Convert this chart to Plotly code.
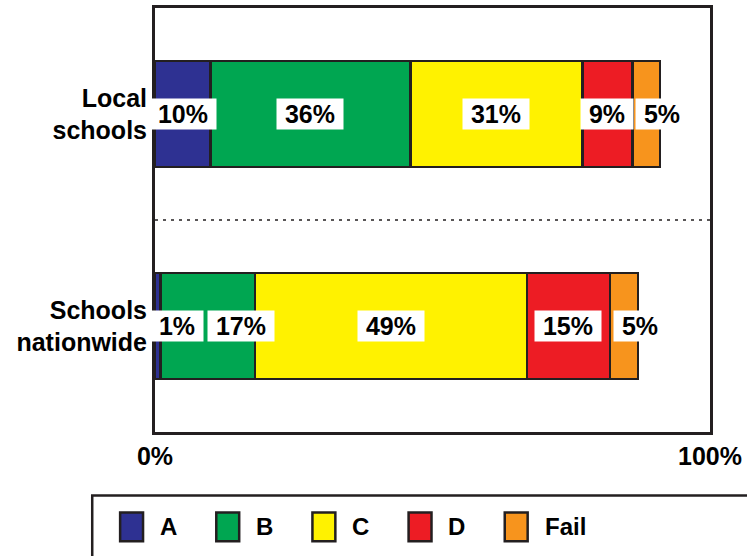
import plotly.graph_objects as go

# data
groups = ["Local schools", "Schools nationwide"]
group_ticktext = ["Local<br>schools", "Schools<br>nationwide"]
grades = ["A", "B", "C", "D", "Fail"]
local_pct = [10, 36, 31, 9, 5]
nationwide_pct = [1, 17, 49, 15, 5]
grade_colors = ["#2e3192", "#00a651", "#fff200", "#ed1c24", "#f7941d"]
x_tickvals = [0, 100]
x_ticktext = ["0%", "100%"]

# pixel nudges for labels on segments too thin to hold them
label_shift = {
    "Local schools": [0, 0, 0, 0, 16],
    "Schools nationwide": [19, 33, 0, 0, 16],
}

W, H = 747, 556
L, R, T, B = 155, 35, 5, 124
DARK = "#231f20"
FONT = "Liberation Sans, Arial, sans-serif"


def px_x(p):
    return (p - L) / (W - L - R)


def px_y(p):
    return (H - B - p) / (H - T - B)


series = {"Local schools": local_pct, "Schools nationwide": nationwide_pct}

fig = go.Figure()
for i, grade in enumerate(grades):
    fig.add_trace(go.Bar(
        y=groups,
        x=[series[g][i] for g in groups],
        name=grade,
        orientation="h",
        marker=dict(color=grade_colors[i], line=dict(color=DARK, width=2.5)),
        showlegend=False,
        hoverinfo="skip",
    ))

annotations = []
for g in groups:
    start = 0
    for i, v in enumerate(series[g]):
        annotations.append(dict(
            x=start + v / 2, y=g, xref="x", yref="y",
            text=f" {v}% ", showarrow=False,
            bgcolor="white", borderpad=1,
            xshift=label_shift[g][i],
            font=dict(family=FONT, size=25, color="black", weight="bold"),
        ))
        start += v

# legend drawn by hand so the swatches match the original size
shapes = [
    dict(type="line", xref="paper", yref="y", x0=0, x1=1, y0=0.5, y1=0.5,
         line=dict(color=DARK, width=1.5, dash="3px,5px")),
    dict(type="rect", xref="paper", yref="paper",
         x0=px_x(92), x1=px_x(770), y0=px_y(496), y1=px_y(580),
         line=dict(color=DARK, width=2.5), fillcolor="rgba(0,0,0,0)"),
]
for i, grade in enumerate(grades):
    x0 = 120 + i * 96.5
    shapes.append(dict(
        type="rect", xref="paper", yref="paper",
        x0=px_x(x0), x1=px_x(x0 + 23), y0=px_y(542), y1=px_y(513),
        fillcolor=grade_colors[i], line=dict(color=DARK, width=2.5),
    ))
    annotations.append(dict(
        x=px_x(x0 + 38), y=px_y(527.5), xref="paper", yref="paper",
        xanchor="left", yanchor="middle", text=grade, showarrow=False,
        font=dict(family="Liberation Sans Narrow, Arial Narrow, " + FONT,
                  size=24, color="black", weight="bold"),
    ))

fig.update_layout(
    width=W, height=H,
    margin=dict(l=L, r=R, t=T, b=B),
    barmode="stack",
    bargap=0.5,
    paper_bgcolor="white",
    plot_bgcolor="white",
    annotations=annotations,
    shapes=shapes,
    xaxis=dict(
        range=[0, 100], tickvals=x_tickvals, ticktext=x_ticktext,
        showgrid=False, zeroline=False, ticks="",
        showline=True, mirror=True, linecolor=DARK, linewidth=3,
        tickfont=dict(family=FONT, size=25, color="black", weight="bold"),
    ),
    yaxis=dict(
        range=[1.5, -0.5], tickvals=groups, ticktext=group_ticktext,
        showgrid=False, zeroline=False, ticks="",
        showline=True, mirror=True, linecolor=DARK, linewidth=3,
        ticklabelstandoff=0,
        tickfont=dict(family=FONT, size=25, color="black", weight="bold"),
    ),
)

# page body has a default 8px margin; drop it so the figure sits at the corner
fig.write_html("out.html", config={"displayModeBar": False},
               post_script="document.body.style.margin='0';")
